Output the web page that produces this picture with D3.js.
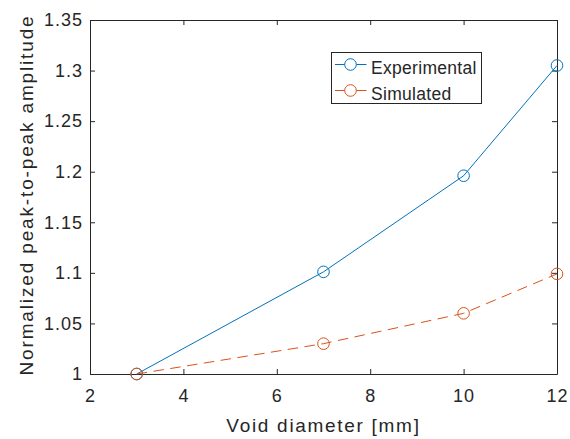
<!DOCTYPE html>
<html lang="en">
  <head>
    <meta charset="UTF-8" />
    <title>Void diameter</title>
    <script src="https://d3js.org/d3.v7.min.js"></script>
    <style>
      body { margin: 0; background: #fff; }
      text { font-family: "Liberation Sans", Arial, sans-serif; fill: #262626; }
    </style>
  </head>
  <body>
    <div id="chart"></div>
    <script>
      // data
      var diameters = [3, 7, 10, 12];
      var experimental = [1.0, 1.101, 1.196, 1.305];
      var simulated = [1.0, 1.03, 1.06, 1.099];
      var xTicks = [2, 4, 6, 8, 10, 12];
      var yTicks = [1, 1.05, 1.1, 1.15, 1.2, 1.25, 1.3, 1.35];
      var seriesNames = ["Experimental", "Simulated"];

      var W = 570, H = 439;
      var pLeft = 90, pRight = 557, pTop = 20, pBottom = 374;

      var svg = d3.select("#chart").append("svg")
        .attr("width", W).attr("height", H);

      var x = d3.scaleLinear().domain([2, 12]).range([pLeft, pRight]);
      var y = d3.scaleLinear().domain([1, 1.35]).range([pBottom, pTop]);

      var axisColor = "#262626";

      // axes (MATLAB box style, ticks inward)
      var gx = svg.append("g").attr("transform", "translate(0," + pBottom + ")")
        .call(d3.axisBottom(x).tickValues(xTicks).tickSizeInner(-5).tickSizeOuter(0).tickPadding(15));
      var gxt = svg.append("g").attr("transform", "translate(0," + pTop + ")")
        .call(d3.axisTop(x).tickValues(xTicks).tickSizeInner(-5).tickSizeOuter(0).tickFormat(""));
      var gy = svg.append("g").attr("transform", "translate(" + pLeft + ",0)")
        .call(d3.axisLeft(y).tickValues(yTicks).tickSizeInner(-5).tickSizeOuter(0).tickPadding(7)
          .tickFormat(function (d) { return String(+d.toFixed(2)); }));
      var gyr = svg.append("g").attr("transform", "translate(" + pRight + ",0)")
        .call(d3.axisRight(y).tickValues(yTicks).tickSizeInner(-5).tickSizeOuter(0).tickFormat(""));

      [gx, gxt, gy, gyr].forEach(function (g) {
        g.select(".domain").attr("stroke", axisColor).attr("stroke-width", 1);
        g.selectAll(".tick line").attr("stroke", axisColor);
        g.selectAll(".tick text").style("font-size", "18px").style("letter-spacing", "1px")
          .style("font-family", "Liberation Sans, Arial, sans-serif").attr("fill", axisColor);
      });

      // axis labels
      svg.append("text")
        .attr("x", (pLeft + pRight) / 2).attr("y", 431.5)
        .attr("text-anchor", "middle").style("font-size", "19px").style("letter-spacing", "1.7px")
        .text("Void diameter [mm]");
      svg.append("text")
        .attr("transform", "translate(33,195) rotate(-90)")
        .attr("text-anchor", "middle").style("font-size", "19px").style("letter-spacing", "1.85px")
        .text("Normalized peak-to-peak amplitude");

      var colors = ["#0072BD", "#D95319"];
      var dashes = [null, "10.5,6.5"];
      var series = [experimental, simulated];

      series.forEach(function (vals, i) {
        var pts = diameters.map(function (d, j) { return [d, vals[j]]; });
        var line = d3.line().x(function (d) { return x(d[0]); }).y(function (d) { return y(d[1]); });
        svg.append("path").datum(pts)
          .attr("fill", "none").attr("stroke", colors[i]).attr("stroke-width", 1)
          .attr("stroke-dasharray", dashes[i]).attr("d", line);
        svg.selectAll(".m" + i).data(pts).enter().append("circle")
          .attr("cx", function (d) { return x(d[0]); })
          .attr("cy", function (d) { return y(d[1]); })
          .attr("r", 5.8).attr("fill", "none").attr("stroke", colors[i]).attr("stroke-width", 1);
      });

      // legend
      var lg = svg.append("g");
      lg.append("rect").attr("x", 331.5).attr("y", 52.5).attr("width", 150).attr("height", 51)
        .attr("fill", "#fff").attr("stroke", axisColor).attr("stroke-width", 1);
      seriesNames.forEach(function (name, i) {
        var yy = 64.5 + i * 26;
        lg.append("line").attr("x1", 335).attr("x2", 366.5).attr("y1", yy).attr("y2", yy)
          .attr("stroke", colors[i]).attr("stroke-width", 1);
        lg.append("circle").attr("cx", 350.5).attr("cy", yy).attr("r", 5.8)
          .attr("fill", "#fff").attr("stroke", colors[i]);
        lg.append("text").attr("x", 371).attr("y", yy + 9.5)
          .style("font-size", "17.5px").style("letter-spacing", "0.3px").text(name);
      });
    </script>
  </body>
</html>
